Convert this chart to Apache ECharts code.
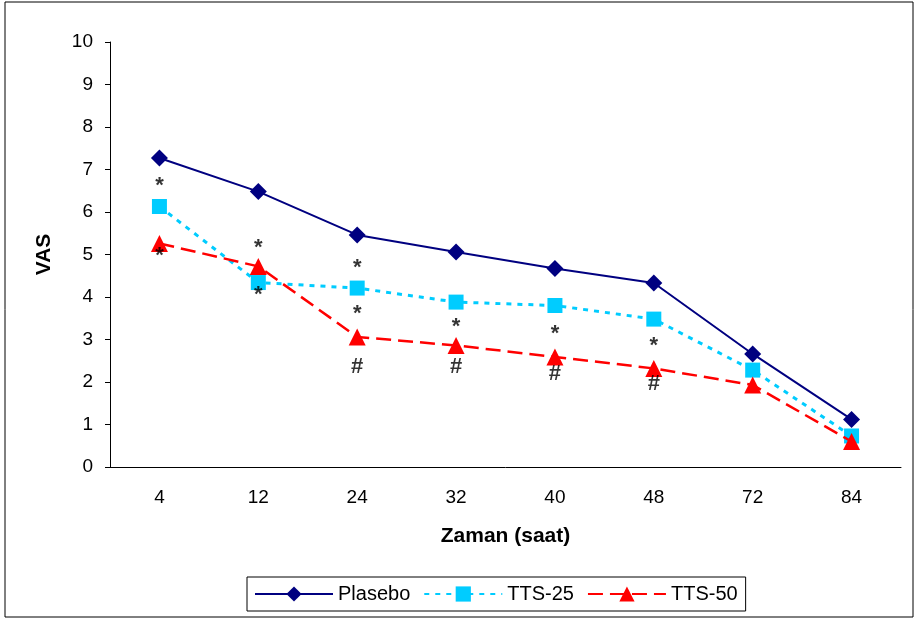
<!DOCTYPE html>
<html>
<head>
<meta charset="utf-8">
<script src="https://cdn.jsdelivr.net/npm/echarts@6/dist/echarts.min.js"></script>
<style>
  html, body { margin: 0; padding: 0; background: #fff; }
  #chart { width: 916px; height: 621px; }
</style>
</head>
<body>
<div id="chart"></div>
<script>
const hours = ["4", "12", "24", "32", "40", "48", "72", "84"];
const plasebo = [7.27, 6.48, 5.46, 5.06, 4.67, 4.33, 2.66, 1.12];
const tts25 = [6.13, 4.34, 4.21, 3.88, 3.8, 3.48, 2.28, 0.73];
const tts50 = [5.26, 4.72, 3.06, 2.86, 2.59, 2.32, 1.93, 0.6];
// significance marks: [category, value, text]
const marks = [
  ["4", 6.62, "*"], ["4", 4.96, "*"],
  ["12", 5.16, "*"], ["12", 4.05, "*"],
  ["24", 4.68, "*"], ["24", 3.6, "*"], ["24", 2.36, "#"],
  ["32", 3.3, "*"], ["32", 2.36, "#"],
  ["40", 3.12, "*"], ["40", 2.18, "#"],
  ["48", 2.84, "*"], ["48", 1.95, "#"]
];

const font = "Liberation Sans, Arial, sans-serif";
const chart = echarts.init(document.getElementById("chart"));

chart.setOption({
  animation: false,
  textStyle: { fontFamily: font, color: "#000" },
  graphic: [{
    type: "rect",
    shape: { x: 5, y: 2, width: 908, height: 615 },
    style: { fill: "none", stroke: "#000", lineWidth: 1 }
  }],
  grid: { left: 110, right: 15, top: 42, bottom: 154 },
  legend: {
    bottom: 10,
    left: 247,
    data: ["Plasebo", "TTS-25", "TTS-50"],
    itemWidth: 78,
    itemHeight: 19,
    itemGap: 13,
    padding: [7, 8, 7, 7],
    borderColor: "#000",
    borderWidth: 1,
    textStyle: { fontFamily: font, fontSize: 20, color: "#000" }
  },
  xAxis: {
    type: "category",
    data: hours,
    name: "Zaman (saat)",
    nameLocation: "middle",
    nameGap: 59,
    nameTextStyle: { fontFamily: font, fontSize: 21, fontWeight: "bold", color: "#000" },
    axisLine: { lineStyle: { color: "#000", width: 1 } },
    axisTick: { length: 6, lineStyle: { color: "#000" } },
    axisLabel: { fontFamily: font, fontSize: 19, color: "#000", margin: 21 },
    splitLine: { show: false }
  },
  yAxis: {
    type: "value",
    min: 0,
    max: 10,
    interval: 1,
    name: "VAS",
    nameLocation: "middle",
    nameGap: 55,
    nameRotate: 90,
    nameTextStyle: { fontFamily: font, fontSize: 21, fontWeight: "bold", color: "#000" },
    axisLine: { show: true, lineStyle: { color: "#000", width: 1 } },
    axisTick: { show: true, length: 5, lineStyle: { color: "#000" } },
    axisLabel: { fontFamily: font, fontSize: 19, color: "#000", margin: 17 },
    splitLine: { show: false }
  },
  series: [
    {
      name: "Plasebo",
      type: "line",
      data: plasebo,
      symbol: "diamond",
      symbolSize: 17,
      itemStyle: { color: "#000080" },
      lineStyle: { color: "#000080", width: 2 },
      z: 3
    },
    {
      name: "TTS-25",
      type: "line",
      data: tts25,
      symbol: "rect",
      symbolSize: 15,
      itemStyle: { color: "#00CCFF" },
      lineStyle: { color: "#00CCFF", width: 3, type: [5, 6] },
      z: 4
    },
    {
      name: "TTS-50",
      type: "line",
      data: tts50,
      symbol: "triangle",
      symbolSize: 17,
      itemStyle: { color: "#FF0000" },
      lineStyle: { color: "#FF0000", width: 2.5, type: [15, 7] },
      z: 5
    },
    {
      name: "marks",
      type: "scatter",
      data: marks.map(m => ({ value: [m[0], m[1]], text: m[2] })),
      symbolSize: 0,
      silent: true,
      label: {
        show: true,
        position: "inside",
        formatter: p => p.data.text,
        fontFamily: font,
        fontSize: 22,
        fontWeight: "bold",
        color: "#000"
      },
      z: 6
    }
  ]
});
</script>
</body>
</html>
